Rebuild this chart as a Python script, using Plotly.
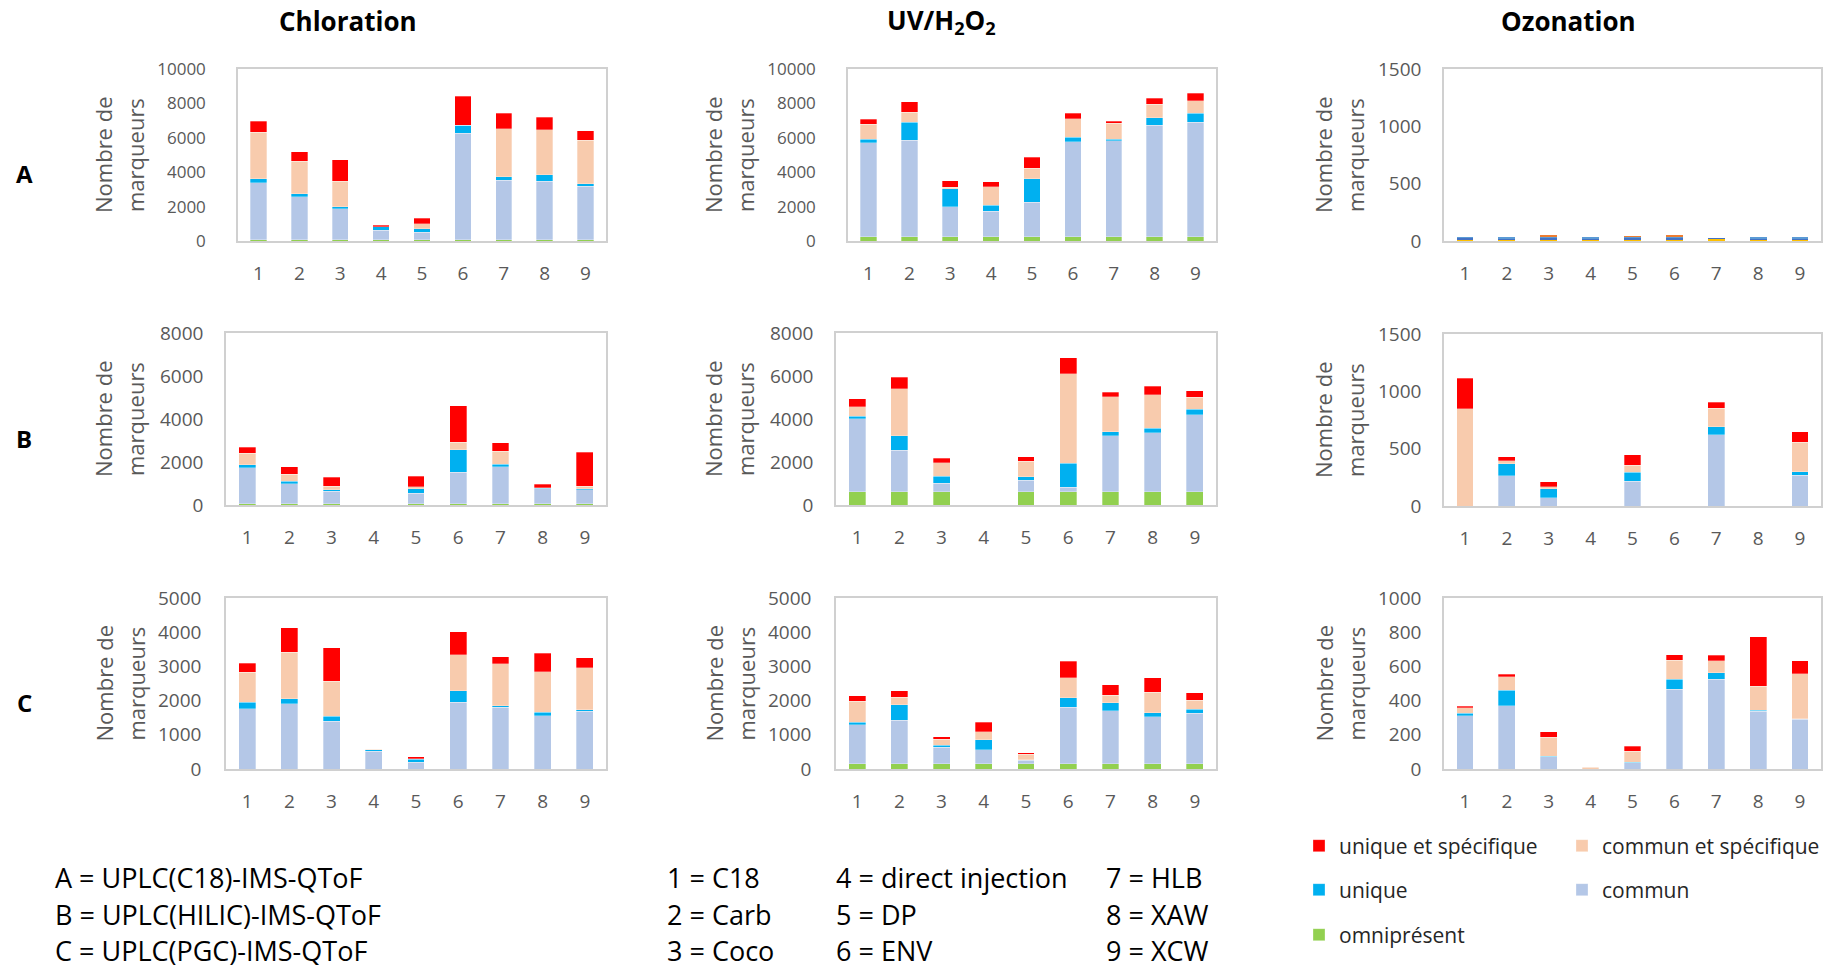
import plotly.graph_objects as go

# page has an 8px body margin, so the figure is drawn inside it
OX, OY = 8, 8
W, H = 1845 - 2 * OX, 973 - 2 * OY

cats = ["1", "2", "3", "4", "5", "6", "7", "8", "9"]

# --- A (C18) ---
a_chl_omni = [80, 80, 80, 80, 80, 80, 80, 80, 80]
a_chl_commun = [3320, 2480, 1784, 541, 425, 6192, 3454, 3396, 3104]
a_chl_unique = [233, 194, 117, 195, 194, 466, 214, 369, 136]
a_chl_com_spec = [2680, 1884, 1495, 0, 291, 0, 2776, 2621, 2525]
a_chl_uni_spec = [640, 543, 1262, 97, 330, 1689, 913, 738, 563]

a_uv_omni = [233, 233, 233, 233, 233, 233, 233, 233, 233]
a_uv_commun = [5476, 5631, 1767, 1495, 2019, 5534, 5592, 6505, 6660]
a_uv_unique = [194, 1029, 1029, 350, 1379, 272, 97, 427, 524]
a_uv_com_spec = [893, 583, 97, 1068, 602, 1068, 913, 796, 738]
a_uv_uni_spec = [272, 621, 369, 291, 641, 310, 136, 330, 447]

# ozonation A uses the default palette in the source figure
a_oz_s1 = [17, 15, 17, 15, 17, 17, 20, 15, 15]
a_oz_s2 = [10, 8, 15, 10, 12, 15, 3, 10, 10]
a_oz_s3 = [5, 4, 8, 5, 6, 8, 0, 5, 6]
a_oz_s4 = [0, 0, 10, 0, 3, 10, 0, 0, 0]

# --- B (HILIC) ---
b_chl_omni = [63, 63, 63, 0, 63, 63, 63, 63, 63]
b_chl_commun = [1660, 924, 579, 0, 485, 1456, 1707, 689, 642]
b_chl_unique = [141, 125, 63, 0, 204, 1049, 125, 31, 47]
b_chl_com_spec = [548, 313, 172, 0, 94, 345, 611, 20, 125]
b_chl_uni_spec = [282, 360, 423, 0, 501, 1707, 391, 152, 1566]

b_uv_omni = [626, 626, 626, 0, 626, 626, 626, 626, 626]
b_uv_commun = [3383, 1927, 392, 0, 517, 204, 2584, 2741, 3571]
b_uv_unique = [109, 657, 313, 0, 172, 1112, 188, 204, 250]
b_uv_com_spec = [455, 2192, 642, 0, 721, 4164, 1629, 1566, 564]
b_uv_uni_spec = [376, 533, 204, 0, 219, 752, 219, 375, 313]

b_oz_omni = [0, 0, 0, 0, 0, 0, 0, 0, 0]
b_oz_commun = [0, 266, 70, 0, 216, 0, 620, 0, 269]
b_oz_unique = [0, 102, 82, 0, 79, 0, 73, 0, 29]
b_oz_com_spec = [848, 27, 18, 0, 59, 0, 161, 0, 258]
b_oz_uni_spec = [266, 35, 41, 0, 93, 0, 52, 0, 93]

# --- C (PGC) ---
c_chl_omni = [0, 0, 0, 0, 0, 0, 0, 0, 0]
c_chl_commun = [1765, 1911, 1394, 517, 195, 1949, 1803, 1559, 1696]
c_chl_unique = [184, 146, 146, 39, 88, 341, 49, 98, 39]
c_chl_com_spec = [878, 1364, 1023, 19, 19, 1053, 1228, 1189, 1228]
c_chl_uni_spec = [263, 712, 985, 20, 59, 673, 205, 536, 292]

c_uv_omni = [156, 156, 156, 156, 156, 156, 156, 156, 156]
c_uv_commun = [1140, 1267, 478, 400, 97, 1647, 1550, 1374, 1472]
c_uv_unique = [78, 458, 58, 302, 20, 283, 234, 117, 126]
c_uv_com_spec = [605, 224, 176, 234, 156, 575, 214, 604, 253]
c_uv_uni_spec = [165, 176, 68, 282, 39, 497, 312, 410, 225]

c_oz_omni = [0, 0, 0, 0, 0, 0, 0, 0, 0]
c_oz_commun = [312, 370, 72, 0, 37, 466, 526, 337, 292]
c_oz_unique = [13, 90, 2, 0, 2, 60, 37, 6, 2]
c_oz_com_spec = [34, 80, 111, 10, 66, 109, 69, 140, 263]
c_oz_uni_spec = [9, 15, 33, 4, 28, 34, 33, 289, 75]

series_names = ["omniprésent", "commun", "unique", "commun et spécifique", "unique et spécifique"]
series_colors = ["#92D050", "#B4C7E7", "#00B0F0", "#F8CBAD", "#FF0000"]
legend_slot = [("legend3", 1), ("legend2", 2), ("legend2", 1), ("legend", 2), ("legend", 1)]
default_colors = ["#FFC000", "#4472C4", "#5B9BD5", "#ED7D31"]

FONT = "Open Sans"
GRAY = "#595959"


def px(x):
    return (x - OX) / W


def py(y):
    return 1 - (y - OY) / H


# panel boxes in window pixels: x0, x1, y0(top), y1(bottom), ymax, dtick, ylab gap, ytick size
panels = [
    (238, 606, 69, 241, 10000, 2000, 27, 17, [a_chl_omni, a_chl_commun, a_chl_unique, a_chl_com_spec, a_chl_uni_spec]),
    (848, 1216, 69, 241, 10000, 2000, 27, 17, [a_uv_omni, a_uv_commun, a_uv_unique, a_uv_com_spec, a_uv_uni_spec]),
    (1444, 1821, 69, 241, 1500, 500, 17, 19, None),
    (226, 606, 333, 505, 8000, 2000, 17, 19, [b_chl_omni, b_chl_commun, b_chl_unique, b_chl_com_spec, b_chl_uni_spec]),
    (836, 1216, 333, 505, 8000, 2000, 17, 19, [b_uv_omni, b_uv_commun, b_uv_unique, b_uv_com_spec, b_uv_uni_spec]),
    (1444, 1821, 334, 506, 1500, 500, 17, 19, [b_oz_omni, b_oz_commun, b_oz_unique, b_oz_com_spec, b_oz_uni_spec]),
    (226, 606, 598, 769, 5000, 1000, 19, 19, [c_chl_omni, c_chl_commun, c_chl_unique, c_chl_com_spec, c_chl_uni_spec]),
    (836, 1216, 598, 769, 5000, 1000, 19, 19, [c_uv_omni, c_uv_commun, c_uv_unique, c_uv_com_spec, c_uv_uni_spec]),
    (1444, 1821, 598, 769, 1000, 200, 17, 19, [c_oz_omni, c_oz_commun, c_oz_unique, c_oz_com_spec, c_oz_uni_spec]),
]

fig = go.Figure()
layout = {}
annotations = []

for i, (x0, x1, y0, y1, ymax, dt, gap, fsz, data) in enumerate(panels):
    k = "" if i == 0 else str(i + 1)
    xa, ya = "x" + k, "y" + k
    if data is None:
        for s, col in zip([a_oz_s1, a_oz_s2, a_oz_s3, a_oz_s4], default_colors):
            fig.add_trace(go.Bar(x=cats, y=s, marker_color=col, xaxis=xa, yaxis=ya,
                                 showlegend=False, marker_line_width=0))
    else:
        for j, s in enumerate(data):
            lg, rank = legend_slot[j]
            fig.add_trace(go.Bar(x=cats, y=s, name=series_names[j], marker_color=series_colors[j],
                                 marker_line=dict(color="rgba(255,255,255,0.5)", width=0.6),
                                 xaxis=xa, yaxis=ya, showlegend=(i == 0), legend=lg, legendrank=rank))
    layout["xaxis" + k] = dict(domain=[px(x0), px(x1)], anchor=ya, type="category",
                               showline=True, linecolor="#D0D0D0", linewidth=1.5, mirror=True,
                               showgrid=False, ticks="outside", ticklen=14, tickcolor="rgba(0,0,0,0)",
                               tickfont=dict(family=FONT, size=19, color=GRAY), fixedrange=True)
    layout["yaxis" + k] = dict(domain=[py(y1), py(y0)], anchor=xa, range=[0, ymax],
                               tick0=0, dtick=dt, tickformat="d", showline=True, linecolor="#D0D0D0",
                               linewidth=1.5, mirror=True, showgrid=False, zeroline=False, ticks="outside",
                               ticklen=gap, tickcolor="rgba(0,0,0,0)",
                               tickfont=dict(family=FONT, size=fsz, color=GRAY), fixedrange=True)
    # y axis title, two lines
    col_left = {238: 103, 226: 103, 848: 713, 836: 713, 1444: 1323}[x0]
    yc = (y0 + y1) / 2
    for txt, dx in (("Nombre de", 0), ("marqueurs", 32)):
        annotations.append(dict(text=txt, x=px(col_left + dx), y=py(yc), xref="paper", yref="paper",
                                textangle=-90, showarrow=False, xanchor="center", yanchor="middle",
                                font=dict(family=FONT, size=22, color=GRAY)))

# column titles
for txt, cx in (("Chloration", 348), ("UV/H<sub>2</sub>O<sub>2</sub>", 941), ("Ozonation", 1568)):
    annotations.append(dict(text="<b>" + txt + "</b>", x=px(cx), y=py(21), xref="paper", yref="paper",
                            showarrow=False, xanchor="center", yanchor="middle",
                            font=dict(family=FONT, size=26, color="black")))

# row labels
for txt, cy in (("A", 173), ("B", 438), ("C", 702)):
    annotations.append(dict(text="<b>" + txt + "</b>", x=px(24), y=py(cy), xref="paper", yref="paper",
                            showarrow=False, xanchor="center", yanchor="middle",
                            font=dict(family=FONT, size=24, color="black")))

# footer key
footer_cols = [
    (53, ["A = UPLC(C18)-IMS-QToF", "B = UPLC(HILIC)-IMS-QToF", "C = UPLC(PGC)-IMS-QToF"]),
    (665, ["1 = C18", "2 = Carb", "3 = Coco"]),
    (834, ["4 = direct injection", "5 = DP", "6 = ENV"]),
    (1104, ["7 = HLB", "8 = XAW", "9 = XCW"]),
]
for fx, lines in footer_cols:
    for txt, fy in zip(lines, (877, 914, 950)):
        annotations.append(dict(text=txt, x=px(fx), y=py(fy), xref="paper", yref="paper",
                                showarrow=False, xanchor="left", yanchor="middle",
                                font=dict(family=FONT, size=27, color="black")))

leg = dict(orientation="h", x=px(1299), xanchor="left", yanchor="middle", entrywidth=218,
           entrywidthmode="pixels", bgcolor="rgba(0,0,0,0)", traceorder="normal",
           font=dict(family=FONT, size=21, color="#262626"))

fig.update_layout(
    template="none",
    width=W, height=H,
    margin=dict(l=0, r=0, t=0, b=0, pad=0, autoexpand=False),
    paper_bgcolor="white", plot_bgcolor="white",
    barmode="stack", bargap=0.6,
    font=dict(family=FONT),
    annotations=annotations,
    legend=dict(leg, y=py(846)),
    legend2=dict(leg, y=py(890)),
    legend3=dict(leg, y=py(935)),
    **layout,
)

fig.write_html("out.html")
